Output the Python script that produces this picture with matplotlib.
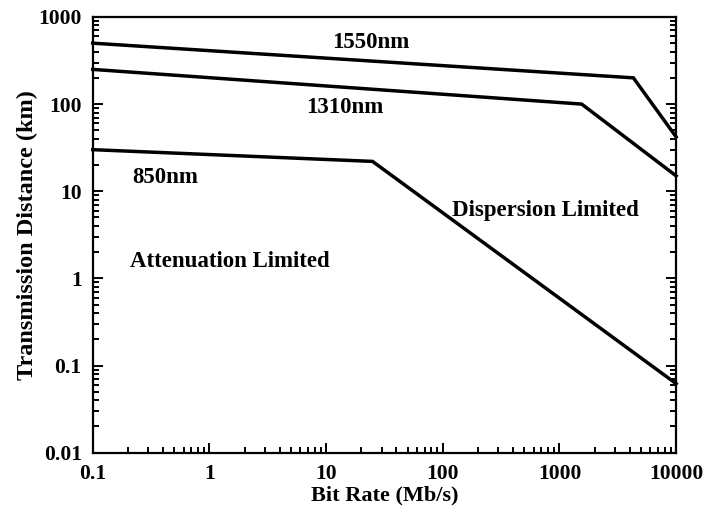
import matplotlib
matplotlib.use("Agg")
import matplotlib.pyplot as plt
from matplotlib.ticker import LogLocator, NullFormatter, FixedLocator, FixedFormatter

# Link-length limits versus bit rate for three fibre wavelengths
rate_1550 = [0.1, 4300, 10000]
dist_1550 = [500, 200, 42]

rate_1310 = [0.1, 1550, 10000]
dist_1310 = [250, 100, 15]

rate_850 = [0.1, 25, 10000]
dist_850 = [30, 22, 0.062]

x_ticks = [0.1, 1, 10, 100, 1000, 10000]
x_labels = ["0.1", "1", "10", "100", "1000", "10000"]
y_ticks = [0.01, 0.1, 1, 10, 100, 1000]
y_labels = ["0.01", "0.1", "1", "10", "100", "1000"]

plt.rcParams["font.family"] = ["Liberation Serif", "DejaVu Serif"]
plt.rcParams["font.weight"] = "bold"

fig = plt.figure(figsize=(7.08, 5.13), dpi=100)
ax = fig.add_axes([0.131, 0.1175, 0.824, 0.8495])

for xs, ys in ((rate_1550, dist_1550), (rate_1310, dist_1310), (rate_850, dist_850)):
    ax.plot(xs, ys, color="black", lw=2.5, solid_joinstyle="miter", clip_on=False)

ax.set_xscale("log")
ax.set_yscale("log")
ax.set_xlim(0.1, 10000)
ax.set_ylim(0.01, 1000)

ax.xaxis.set_major_locator(FixedLocator(x_ticks))
ax.xaxis.set_major_formatter(FixedFormatter(x_labels))
ax.yaxis.set_major_locator(FixedLocator(y_ticks))
ax.yaxis.set_major_formatter(FixedFormatter(y_labels))
ax.xaxis.set_minor_locator(LogLocator(base=10, subs=range(2, 10), numticks=20))
ax.yaxis.set_minor_locator(LogLocator(base=10, subs=range(2, 10), numticks=20))
ax.xaxis.set_minor_formatter(NullFormatter())
ax.yaxis.set_minor_formatter(NullFormatter())

ax.tick_params(which="both", direction="in", top=False, right=True, width=1.4)
ax.tick_params(which="major", length=7, labelsize=15.5)
ax.tick_params(axis="x", which="major", pad=8)
ax.tick_params(axis="y", which="major", pad=8)
ax.tick_params(which="minor", length=4)
for lab in ax.get_xticklabels() + ax.get_yticklabels():
    lab.set_fontweight("bold")

for sp in ax.spines.values():
    sp.set_linewidth(1.6)

ax.set_xlabel("Bit Rate (Mb/s)", fontsize=16, fontweight="bold", labelpad=1)
ax.set_ylabel("Transmission Distance (km)", fontsize=17.5, fontweight="bold", labelpad=0)

txt = dict(fontsize=16.5, fontweight="bold", ha="center", va="center")
ax.text(24, 505, "1550nm", **txt)
ax.text(14.5, 92, "1310nm", **txt)
ax.text(0.42, 14.5, "850nm", **txt)
ax.text(750, 6.0, "Dispersion Limited", **txt)
ax.text(1.5, 1.55, "Attenuation Limited", **txt)

fig.savefig("out.png", dpi=100)
